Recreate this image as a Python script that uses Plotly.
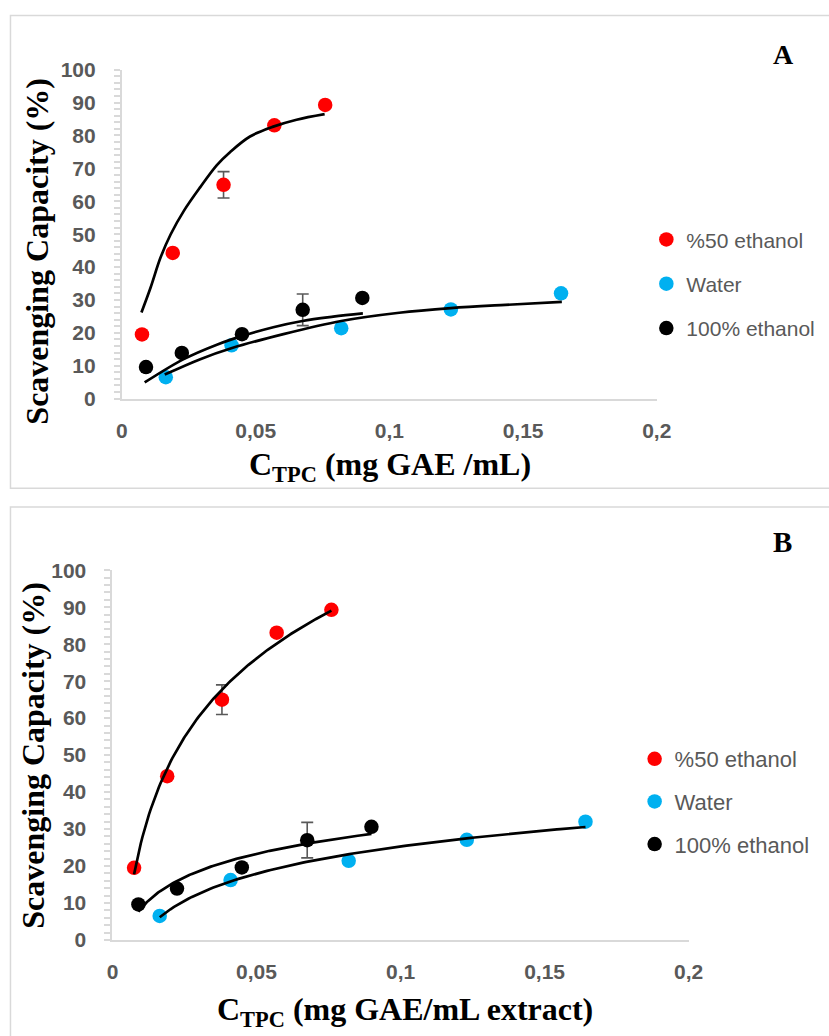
import numpy as np
import plotly.graph_objects as go

W, H = 829, 1036

# ---------------- data ----------------
series_names = ["%50 ethanol", "Water", "100% ethanol"]
series_colors = ["#FF0000", "#00B0F0", "#000000"]

eth50_x = [0.0075, 0.0190, 0.0380, 0.0570, 0.0760]
eth50_y = [19.5, 44.3, 65.0, 83.1, 89.3]
eth50_err = [0, 0, 4.0, 0, 0]

water_x = [0.0164, 0.0410, 0.0820, 0.1230, 0.1642]
water_y = [6.5, 16.2, 21.4, 27.1, 32.0]
water_err = [0, 0, 0, 0, 0]

eth100_x = [0.0090, 0.0224, 0.0449, 0.0676, 0.0899]
eth100_y = [9.6, 13.9, 19.6, 27.0, 30.6]
eth100_err = [0, 0, 0, 4.8, 0]

# Panel A model curves
fitA_eth50_x = [0.0073, 0.0107, 0.0144, 0.0182, 0.0231, 0.0293, 0.0355, 0.0405, 0.0479, 0.0566, 0.0653, 0.0758]
fitA_eth50_y = [26.2, 33.7, 42.8, 49.9, 57.0, 64.3, 71.0, 75.0, 79.7, 82.7, 84.8, 86.5]
fitA_eth100_x = [0.0085, 0.0231, 0.0355, 0.0448, 0.0566, 0.0675, 0.0790, 0.0901]
fitA_eth100_y = [4.9, 12.0, 16.4, 19.0, 21.7, 23.6, 24.9, 25.9]
fitA_water_x = [0.0160, 0.0293, 0.0409, 0.0604, 0.0820, 0.1037, 0.1230, 0.1434, 0.1645]
fitA_water_y = [7.3, 12.0, 15.3, 19.6, 23.6, 26.1, 27.5, 28.5, 29.4]

x_tick_vals = [0, 0.05, 0.1, 0.15, 0.2]
x_tick_text = ["0", "0,05", "0,1", "0,15", "0,2"]
y_tick_vals = [0, 10, 20, 30, 40, 50, 60, 70, 80, 90, 100]
y_tick_text = [str(v) for v in y_tick_vals]

panel_labels = ["A", "B"]
x_titles = ["C<sub>TPC</sub> (mg GAE /mL)", "C<sub>TPC</sub> (mg GAE/mL extract)"]
y_title = "Scavenging Capacity (%)"

# ---------------- helpers ----------------
# positions measured on the photographed page -> page coordinates
SX, OX, SY, OY = 0.9795, 3.0, 0.9826, 9.0

def px_x(p):
    return ((p - OX) / SX) / W

def px_y(p):
    return 1 - ((p - OY) / SY) / H

GRAY = "#595959"
AXIS = "#D9D9D9"
TICKFONT = dict(family="Liberation Sans, Arial, sans-serif", size=21, color=GRAY, weight="bold")
XTITLEFONT = dict(family="Liberation Serif, Times New Roman, serif", size=32, color="#000000", weight="bold")
YTITLEFONT = dict(family="Liberation Serif, Times New Roman, serif", size=32, color="#000000", weight="bold")

data_sets = [
    (eth50_x, eth50_y, eth50_err),
    (water_x, water_y, water_err),
    (eth100_x, eth100_y, eth100_err),
]
fitA = [
    (fitA_eth50_x, fitA_eth50_y),
    (fitA_water_x, fitA_water_y),
    (fitA_eth100_x, fitA_eth100_y),
]

fig = go.Figure()

for panel, (xa, ya, leg) in enumerate([("x", "y", "legend"), ("x2", "y2", "legend2")]):
    for i, (xs, ys, es) in enumerate(data_sets):
        fig.add_trace(go.Scatter(
            x=xs, y=ys, mode="markers", name=series_names[i],
            marker=dict(color=series_colors[i], size=14.5, line=dict(width=0)),
            error_y=dict(type="data", array=es, visible=True, color=GRAY, thickness=1.6, width=6),
            xaxis=xa, yaxis=ya, legend=leg, legendgroup=f"{panel}-{i}", showlegend=True,
        ))
    for i, (xs, ys, es) in enumerate(data_sets):
        if panel == 0:
            fx, fy = fitA[i]
            fig.add_trace(go.Scatter(
                x=fx, y=fy, mode="lines", line=dict(color="#000000", width=2.7, shape="spline", smoothing=1.0),
                xaxis=xa, yaxis=ya, showlegend=False, hoverinfo="skip",
            ))
        else:
            slope, icpt = np.polyfit(np.log(xs), ys, 1)
            gx = np.linspace(min(xs), max(xs), 120)
            gy = slope * np.log(gx) + icpt
            fig.add_trace(go.Scatter(
                x=gx, y=gy, mode="lines", line=dict(color="#000000", width=2.7),
                xaxis=xa, yaxis=ya, showlegend=False, hoverinfo="skip",
            ))

xcommon = dict(range=[0, 0.2], tickvals=x_tick_vals, ticktext=x_tick_text, showline=True,
               linecolor=AXIS, linewidth=2, showgrid=False, zeroline=False, ticks="",
               tickfont=TICKFONT, ticklabelstandoff=12, fixedrange=True)
ycommon = dict(range=[0, 100], tickvals=y_tick_vals, ticktext=y_tick_text, showline=True,
               linecolor=AXIS, linewidth=2, showgrid=False, zeroline=False, ticks="outside",
               ticklen=6, tickwidth=1.6, tickcolor=AXIS,
               minor=dict(dtick=2, ticks="outside", ticklen=6, tickwidth=1.6, tickcolor=AXIS),
               tickfont=TICKFONT, ticklabelstandoff=14, fixedrange=True)

fig.update_layout(
    width=W, height=H, margin=dict(l=0, r=0, t=0, b=0),
    paper_bgcolor="white", plot_bgcolor="white",
    xaxis=dict(domain=[px_x(119.5), px_x(657)], anchor="y", **xcommon),
    yaxis=dict(domain=[px_y(397.5), px_y(67)], anchor="x", **ycommon),
    xaxis2=dict(domain=[px_x(110), px_x(689)], anchor="y2", **xcommon),
    yaxis2=dict(domain=[px_y(941.5), px_y(570)], anchor="x2", **ycommon),
    legend=dict(x=0.7925, y=1 - 212 / H, xanchor="left", yanchor="top",
                font=dict(family="Liberation Sans, Arial, sans-serif", size=21, color=GRAY),
                bgcolor="rgba(0,0,0,0)", tracegroupgap=14, itemwidth=30),
    legend2=dict(x=0.778, y=1 - 742.5 / H, xanchor="left", yanchor="top",
                 font=dict(family="Liberation Sans, Arial, sans-serif", size=22, color=GRAY),
                 bgcolor="rgba(0,0,0,0)", tracegroupgap=11, itemwidth=30),
    showlegend=True,
)

fig.add_shape(type="rect", xref="paper", yref="paper", x0=px_x(7.5), x1=1.02,
              y0=px_y(487.5), y1=px_y(12.5), line=dict(color=AXIS, width=1.5), layer="below")
fig.add_shape(type="rect", xref="paper", yref="paper", x0=px_x(7.5), x1=1.02,
              y0=-0.02, y1=px_y(506.5), line=dict(color=AXIS, width=1.5), layer="below")

ann = []
ann.append(dict(text=x_titles[0], x=px_x(389), y=px_y(466), xref="paper", yref="paper",
                showarrow=False, font=XTITLEFONT, xanchor="center", yanchor="middle"))
ann.append(dict(text=x_titles[1], x=px_x(404), y=px_y(1013), xref="paper", yref="paper",
                showarrow=False, font=XTITLEFONT, xanchor="center", yanchor="middle"))
ann.append(dict(text=y_title, x=px_x(34.5), y=px_y(249.5), xref="paper", yref="paper",
                showarrow=False, font=YTITLEFONT, textangle=-90, xanchor="center", yanchor="middle"))
ann.append(dict(text=y_title, x=px_x(30), y=px_y(755.5), xref="paper", yref="paper",
                showarrow=False, font=YTITLEFONT, textangle=-90, xanchor="center", yanchor="middle"))
ann.append(dict(text=panel_labels[0], x=px_x(784), y=px_y(52), xref="paper", yref="paper",
                showarrow=False, font=dict(family="Liberation Serif, Times New Roman, serif", size=28, color="#000000", weight="bold"),
                xanchor="center", yanchor="middle"))
ann.append(dict(text=panel_labels[1], x=px_x(783), y=px_y(542), xref="paper", yref="paper",
                showarrow=False, font=dict(family="Liberation Serif, Times New Roman, serif", size=29, color="#000000", weight="bold"),
                xanchor="center", yanchor="middle"))
fig.update_layout(annotations=ann)

fig.write_html("out.html",
               post_script="document.body.style.margin='0px';document.body.style.overflow='hidden';")
